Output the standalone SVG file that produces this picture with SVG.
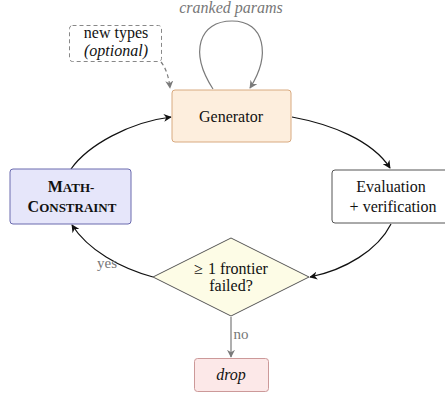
<svg xmlns="http://www.w3.org/2000/svg" width="445" height="393" viewBox="0 0 445 393" font-family="Liberation Serif, serif" font-size="16">
<style>
text{fill:#111;text-anchor:middle}
.gray{fill:#777}
.edge{fill:none;stroke:#111;stroke-width:1.2}
.gedge{fill:none;stroke:#7a7a7a;stroke-width:1.2}
</style>
<defs>
<marker id="ah" viewBox="0 0 10 10" refX="9" refY="5" markerWidth="8" markerHeight="8" markerUnits="userSpaceOnUse" orient="auto">
<path d="M0,0 L10,5 L0,10 L3,5 z" fill="#111"/>
</marker>
<marker id="ahg" viewBox="0 0 10 10" refX="9" refY="5" markerWidth="8" markerHeight="8" markerUnits="userSpaceOnUse" orient="auto">
<path d="M0,0 L10,5 L0,10 L3,5 z" fill="#7a7a7a"/>
</marker>
</defs>
<g id="connectors">
<path class="edge" d="M292,117 C330,124 372,140 390,168" marker-end="url(#ah)"/>
<path class="edge" d="M391,224 C378,250 345,270 310,277" marker-end="url(#ah)"/>
<path class="edge" d="M153,277 C120,268 88,250 72,225" marker-end="url(#ah)"/>
<path class="edge" d="M71,169 C88,145 130,122 171,117" marker-end="url(#ah)"/>
<path class="gedge" d="M213,89 C189,52 199,21 232,21 C265,21 271,55 250,88" marker-end="url(#ahg)"/>
<path class="gedge" d="M161,62 C166,68 169,78 170,88" stroke-dasharray="4,3" marker-end="url(#ahg)"/>
<path class="gedge" d="M231,317 L231,357" marker-end="url(#ahg)"/>
<text class="gray" x="231" y="13" font-family="Liberation Serif, serif" font-style="italic">cranked params</text>
<text class="gray" x="107" y="268" font-family="Liberation Serif, serif" font-size="15">yes</text>
<text class="gray" x="241" y="339" font-family="Liberation Serif, serif" font-size="15">no</text>
</g>
<g id="newtypes">
<rect x="69.5" y="25.5" width="92" height="36" rx="3" fill="#fff" stroke="#888" stroke-width="1" stroke-dasharray="4,3"/>
<text x="116" y="38" font-family="Liberation Serif, serif">new types</text>
<text x="116" y="56" font-family="Liberation Serif, serif" font-style="italic">(optional)</text>
</g>
<g id="generator">
<rect x="172" y="90" width="119" height="52" rx="3" fill="#fdeedd" stroke="#d8aa80" stroke-width="1"/>
<text x="231" y="122" font-family="Liberation Serif, serif">Generator</text>
</g>
<g id="evaluation">
<rect x="332" y="170" width="118" height="53" rx="3" fill="#fff" stroke="#555" stroke-width="1"/>
<text x="391" y="192" font-family="Liberation Serif, serif">Evaluation</text>
<text x="393" y="212" font-family="Liberation Serif, serif">+ verification</text>
</g>
<g id="mathconstraint">
<rect x="10" y="169" width="121" height="55" rx="3" fill="#e6e6fa" stroke="#6a6aae" stroke-width="1"/>
<text x="71" y="192" font-family="Liberation Serif, serif" font-weight="bold">M<tspan font-size="13">ATH-</tspan></text>
<text x="72" y="212" font-family="Liberation Serif, serif" font-weight="bold">C<tspan font-size="13">ONSTRAINT</tspan></text>
</g>
<g id="decision">
<polygon points="231,238 309,277 231,316 153,277" fill="#fdfce6" stroke="#555" stroke-width="1"/>
<text x="231" y="274" font-family="Liberation Serif, serif"><tspan>≥</tspan><tspan dx="5">1 frontier</tspan></text>
<text x="231" y="291" font-family="Liberation Serif, serif">failed?</text>
</g>
<g id="drop">
<rect x="194.5" y="358.5" width="74" height="33" rx="3" fill="#fce8e8" stroke="#c99" stroke-width="1"/>
<text x="231" y="380" font-family="Liberation Serif, serif" font-style="italic">drop</text>
</g>
</svg>
